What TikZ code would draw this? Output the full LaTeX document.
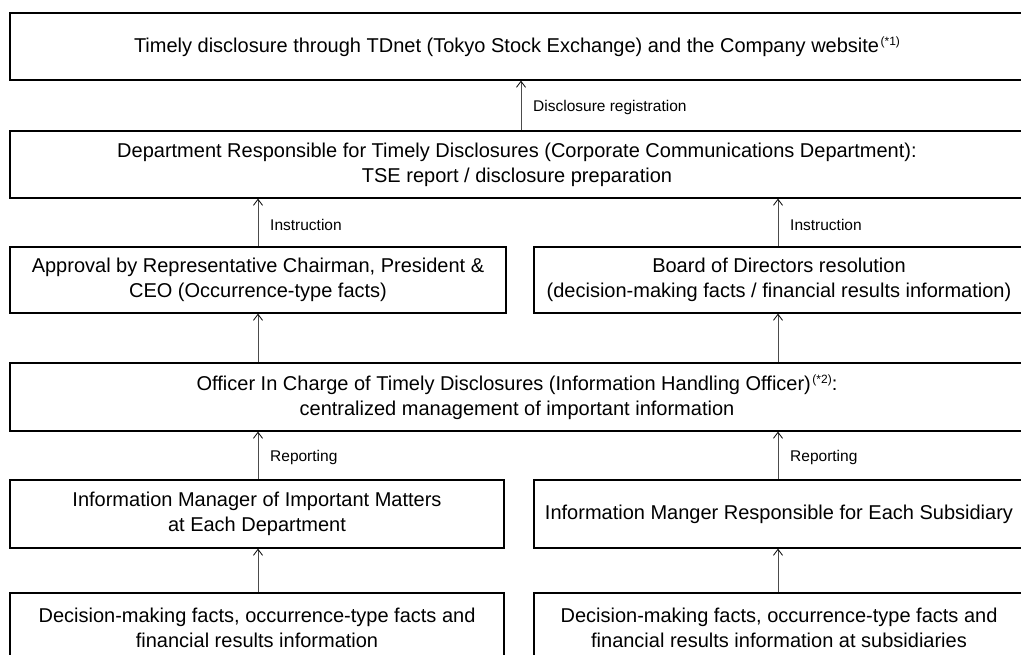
\documentclass[tikz,border=0pt]{standalone}
\usepackage{fontspec}
\setmainfont{Liberation Sans}
\usetikzlibrary{arrows.meta}
\begin{document}
\begin{tikzpicture}[x=1pt,y=-1pt,
  box/.style={draw=black,line width=1.3pt,minimum height=#1,inner sep=0pt,
    align=center,font=\fontsize{20}{25}\selectfont},
  box/.default=67pt,
  arr/.style={draw=black!70,line width=0.8pt,-{Straight Barb[length=6pt,width=9pt,line width=0.8pt,black]}},
  lbl/.style={anchor=west,inner sep=0pt,font=\fontsize{15.5}{17}\selectfont}]
\useasboundingbox (0,0) rectangle (1021,655);
\clip (0,0) rectangle (1021,655);
\fill[white] (0,0) rectangle (1021,655);
\newcommand{\supmark}[1]{\hspace{1.5pt}\raisebox{7pt}{\fontsize{12}{12}\selectfont#1}}
% boxes
\node[box,minimum width=1014pt] (top) at (517,46.5)
  {Timely disclosure through TDnet (Tokyo Stock Exchange) and the Company website\supmark{(*1)}};
\node[box,minimum width=1014pt] (dept) at (517,164.5)
  {Department Responsible for Timely Disclosures (Corporate Communications Department):\\TSE report / disclosure preparation};
\node[box=66pt,minimum width=496pt] (appr) at (258,280)
  {Approval by Representative Chairman, President \&\\CEO (Occurrence-type facts)};
\node[box=66pt,minimum width=490pt] (board) at (779,280)
  {Board of Directors resolution\\(decision-making facts / financial results information)};
\node[box=68pt,minimum width=1014pt] (off) at (517,397)
  {Officer In Charge of Timely Disclosures (Information Handling Officer)\supmark{(*2)}:\\centralized management of important information};
\node[box=68pt,minimum width=494pt] (imgr) at (257,514)
  {Information Manager of Important Matters\\at Each Department};
\node[box=68pt,minimum width=490pt] (smgr) at (779,514)
  {Information Manger Responsible for Each Subsidiary};
\node[box=70pt,minimum width=494pt] (dfacts) at (257,628)
  {Decision-making facts, occurrence-type facts and\\financial results information};
\node[box=70pt,minimum width=490pt] (sfacts) at (779,628)
  {Decision-making facts, occurrence-type facts and\\financial results information at subsidiaries};
% arrow columns
\coordinate (xm) at (521,0);
\coordinate (xl) at (258,0);
\coordinate (xr) at (778,0);
\draw[arr] (dept.north -| xm) -- (top.south -| xm);
\node[lbl] (l1) at (533,107) {Disclosure registration};
\draw[arr] (appr.north -| xl) -- (dept.south -| xl);
\node[lbl] (l2) at (270,225) {Instruction};
\draw[arr] (board.north -| xr) -- (dept.south -| xr);
\node[lbl] (l3) at (790,225) {Instruction};
\draw[arr] (off.north -| xl) -- (appr.south -| xl);
\draw[arr] (off.north -| xr) -- (board.south -| xr);
\draw[arr] (imgr.north -| xl) -- (off.south -| xl);
\node[lbl] (l4) at (270,457) {Reporting};
\draw[arr] (smgr.north -| xr) -- (off.south -| xr);
\node[lbl] (l5) at (790,457) {Reporting};
\draw[arr] (dfacts.north -| xl) -- (imgr.south -| xl);
\draw[arr] (sfacts.north -| xr) -- (smgr.south -| xr);
\end{tikzpicture}
\end{document}
